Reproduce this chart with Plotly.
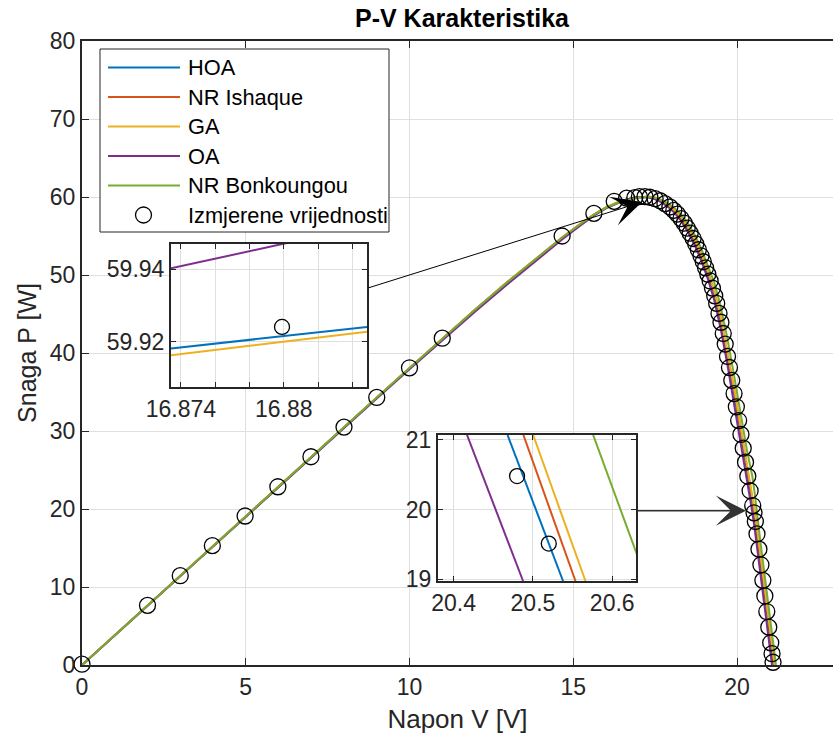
import plotly.graph_objects as go

# ---------------- data ----------------
SERIES = ["HOA", "NR Ishaque", "GA", "OA", "NR Bonkoungou"]
COLORS = ["#0072BD", "#D95319", "#EDB120", "#7E2F8E", "#77AC30"]
MEAS_NAME = "Izmjerene vrijednosti"

V_MODEL = [0, 1, 2, 3, 4, 5, 6, 7, 8, 9, 10, 11, 12, 13, 14, 14.66, 15.2, 15.63, 16.0, 16.3, 16.6, 16.88,
           17.1, 17.3, 17.5, 17.7, 17.9, 18.1, 18.3, 18.5, 18.7, 18.9, 19.1, 19.3, 19.5, 19.7, 19.9, 20.1, 20.3,
           20.468, 20.538, 20.7, 20.9]
P_HOA = [0, 3.82, 7.64, 11.46, 15.28, 19.1, 22.9, 26.7, 30.5, 34.28, 38.05, 41.8, 45.5, 49.08, 52.5, 54.75, 56.45,
         57.72, 58.65, 59.22, 59.65, 59.922, 60.0, 59.97, 59.78, 59.42, 58.87, 58.15, 57.18, 55.9, 54.34, 52.46,
         50.22, 47.62, 44.12, 39.8, 35.04, 30.08, 25.0, 21.0, 19.0, 13.7, 7.2]
P_NR = [0, 3.82, 7.64, 11.46, 15.28, 19.1, 22.9, 26.7, 30.5, 34.28, 38.05, 41.82, 45.55, 49.13, 52.55, 54.8, 56.5,
        57.76, 58.67, 59.22, 59.62, 59.90, 60.0, 59.99, 59.81, 59.47, 58.93, 58.23, 57.29, 56.04, 54.51, 52.67,
        50.46, 47.92, 44.51, 40.25, 35.52, 30.58, 25.53, 21.6, 19.48, 14.34, 7.86]
P_GA = [0, 3.82, 7.64, 11.46, 15.28, 19.1, 22.9, 26.7, 30.5, 34.28, 38.06, 41.83, 45.55, 49.14, 52.56, 54.8, 56.5,
        57.76, 58.67, 59.23, 59.64, 59.92, 60.0, 60.0, 59.83, 59.49, 58.97, 58.28, 57.36, 56.12, 54.62, 52.79,
        50.6, 48.1, 44.74, 40.52, 35.81, 30.88, 25.85, 21.98, 19.86, 14.72, 8.26]
P_OA = [0, 3.81, 7.62, 11.43, 15.24, 19.05, 22.84, 26.63, 30.41, 34.17, 37.92, 41.63, 45.28, 48.85, 52.3, 54.55,
        56.28, 57.6, 58.55, 59.15, 59.65, 59.947, 60.0, 59.92, 59.7, 59.3, 58.71, 57.94, 56.9, 55.55, 53.91, 51.95,
        49.62, 46.87, 43.15, 38.68, 33.84, 28.83, 23.68, 19.57, 17.53, 12.1, 5.55]
P_BONK = [0, 3.82, 7.64, 11.46, 15.28, 19.1, 22.9, 26.7, 30.5, 34.29, 38.07, 41.84, 45.56, 49.15, 52.56, 54.8,
          56.48, 57.74, 58.62, 59.15, 59.55, 59.84, 59.99, 60.05, 59.93, 59.64, 59.18, 58.56, 57.74, 56.59, 55.18,
          53.47, 51.4, 49.09, 46.03, 42.0, 37.39, 32.53, 27.6, 24.2, 22.1, 16.3, 9.6]
VOC = [21.118, 21.138, 21.15, 21.068, 21.19]   # open-circuit voltage of each model (P = 0)

V_MEAS = [0, 2.0, 3.0, 3.98, 4.98, 5.98, 6.99, 8.0, 9.0, 10.0, 11.0, 14.66, 15.63, 16.25, 16.63, 16.88, 17.02,
          17.19, 17.34, 17.50, 17.65, 17.80, 17.95, 18.07, 18.18, 18.29, 18.39, 18.48, 18.57, 18.66, 18.74, 18.82,
          18.90, 18.97, 19.04, 19.11, 19.18, 19.25, 19.32, 19.38, 19.45, 19.51, 19.58, 19.64, 19.71, 19.77, 19.84,
          19.91, 19.98, 20.05, 20.12, 20.19, 20.26, 20.33, 20.40, 20.48, 20.52, 20.56, 20.61, 20.67, 20.73, 20.79,
          20.85, 20.91, 20.97, 21.03, 21.07, 21.10]
P_MEAS = [0.1, 7.65, 11.45, 15.3, 19.1, 22.85, 26.7, 30.5, 34.3, 38.1, 41.9, 55.0, 57.9, 59.45, 59.85, 59.924,
          60.05, 60.05, 59.97, 59.78, 59.52, 59.15, 58.72, 58.28, 57.80, 57.24, 56.64, 56.02, 55.36, 54.68, 53.98,
          53.24, 52.46, 51.70, 50.92, 50.10, 49.24, 48.32, 47.32, 46.36, 45.08, 43.94, 42.50, 41.14, 39.56, 38.14,
          36.50, 34.80, 33.10, 31.34, 29.56, 27.80, 26.00, 24.20, 22.34, 20.44, 19.51, 18.40, 16.80, 14.85, 12.85,
          10.85, 8.85, 6.85, 4.85, 2.85, 1.45, 0.35]

# inset 1 (around the maximum power point)
IN1_V = [16.87342, 16.88486]
IN1_HOA = [59.9182, 59.9241]
IN1_GA = [59.9163, 59.9228]
IN1_OA = [59.9402, 59.9520]
IN1_MEAS_V = [16.8799]
IN1_MEAS_P = [59.9241]
IN1_XRANGE = [16.87342, 16.88486]
IN1_YRANGE = [59.9076, 59.9469]
IN1_XTICKS = [16.874, 16.876, 16.878, 16.880, 16.882, 16.884]
IN1_XTEXT = ["16.874", "", "", "16.88", "", ""]
IN1_YTICKS = [59.92, 59.94]
IN1_YTEXT = ["59.92", "59.94"]

# inset 2 (around P = 20 W)
IN2_P = [21.066, 18.976]
IN2_HOA_V = [20.468, 20.538]
IN2_NR_V = [20.488, 20.5537]
IN2_GA_V = [20.5003, 20.5663]
IN2_OA_V = [20.4169, 20.4876]
IN2_BONK_V = [20.576, 20.6434]
IN2_MEAS_V = [20.480, 20.520]
IN2_MEAS_P = [20.478, 19.512]
IN2_XRANGE = [20.3803, 20.630]
IN2_YRANGE = [18.976, 21.066]
IN2_XTICKS = [20.4, 20.5, 20.6]
IN2_YTICKS = [19, 20, 21]

X_TICKS = [0, 5, 10, 15, 20]
Y_TICKS = [0, 10, 20, 30, 40, 50, 60, 70, 80]

# ---------------- layout helpers ----------------
W, H = 833, 739
PL, PR, PT, PB = 82, 833, 41, 665   # main plot area in pixels
FONT = "Liberation Sans, Arial, sans-serif"
AX = "#262626"
GRID = "#dfdfdf"


def px(x):
    return (x - PL) / (PR - PL)


def py(y):
    return (PB - y) / (PB - PT)


fig = go.Figure()

model_p = [P_HOA, P_NR, P_GA, P_OA, P_BONK]
for name, col, pv, voc in zip(SERIES, COLORS, model_p, VOC):
    fig.add_trace(go.Scatter(x=V_MODEL + [voc], y=pv + [0], mode="lines", name=name,
                             line=dict(color=col, width=2), showlegend=False, xaxis="x", yaxis="y"))
fig.add_trace(go.Scatter(x=V_MEAS, y=P_MEAS, mode="markers", name=MEAS_NAME, cliponaxis=False,
                         marker=dict(symbol="circle-open", size=16, color="black", line=dict(width=1.3)),
                         showlegend=False, xaxis="x", yaxis="y"))

# inset 1
for yv, col in [(IN1_HOA, COLORS[0]), (IN1_GA, COLORS[2]), (IN1_OA, COLORS[3])]:
    fig.add_trace(go.Scatter(x=IN1_V, y=yv, mode="lines", line=dict(color=col, width=2),
                             showlegend=False, xaxis="x2", yaxis="y2"))
fig.add_trace(go.Scatter(x=IN1_MEAS_V, y=IN1_MEAS_P, mode="markers", showlegend=False, xaxis="x2", yaxis="y2",
                         marker=dict(symbol="circle-open", size=15, color="black", line=dict(width=1.3))))

# inset 2
for xv, col in [(IN2_HOA_V, COLORS[0]), (IN2_NR_V, COLORS[1]), (IN2_GA_V, COLORS[2]),
                (IN2_OA_V, COLORS[3]), (IN2_BONK_V, COLORS[4])]:
    fig.add_trace(go.Scatter(x=xv, y=IN2_P, mode="lines", line=dict(color=col, width=2),
                             showlegend=False, xaxis="x3", yaxis="y3"))
fig.add_trace(go.Scatter(x=IN2_MEAS_V, y=IN2_MEAS_P, mode="markers", showlegend=False, xaxis="x3", yaxis="y3",
                         marker=dict(symbol="circle-open", size=15, color="black", line=dict(width=1.3))))

tickfont = dict(family=FONT, size=23, color=AX)
common = dict(showline=True, linecolor=AX, linewidth=2, ticks="inside", tickcolor=AX, tickwidth=1.3,
              showgrid=True, gridcolor=GRID, gridwidth=1, zeroline=False, tickfont=tickfont)

# inset domains from pixel boxes
i1 = (171, 244, 367, 387)
i2 = (438, 435, 636, 581)

fig.update_layout(
    width=W, height=H,
    margin=dict(l=PL, r=W - PR, t=PT, b=H - PB),
    paper_bgcolor="white", plot_bgcolor="white",
    font=dict(family=FONT, color=AX),
    title=dict(text="<b>P-V Karakteristika</b>", x=462 / W, xanchor="center",
               y=1 - 18 / H, yanchor="middle", font=dict(family=FONT, size=25, color="black")),
    xaxis=dict(domain=[0, 1], range=[0, (PR - PL) / 32.75], tickvals=X_TICKS, ticklen=7, mirror="ticks",
               title=dict(text="Napon V [V]", font=dict(family=FONT, size=26, color=AX), standoff=11),
               anchor="y", **common),
    yaxis=dict(domain=[0, 1], range=[0, 80], tickvals=Y_TICKS, ticklen=7, mirror=False,
               title=dict(text="Snaga P [W]", font=dict(family=FONT, size=25, color=AX), standoff=6),
               anchor="x", **common),
    xaxis2=dict(domain=[px(i1[0]), px(i1[2])], range=IN1_XRANGE, tickvals=IN1_XTICKS, ticktext=IN1_XTEXT,
                ticklen=5, mirror="ticks", anchor="y2", **common),
    yaxis2=dict(domain=[py(i1[3]), py(i1[1])], range=IN1_YRANGE, tickvals=IN1_YTICKS, ticktext=IN1_YTEXT,
                ticklen=5, mirror="ticks", anchor="x2", **common),
    xaxis3=dict(domain=[px(i2[0]), px(i2[2])], range=IN2_XRANGE, tickvals=IN2_XTICKS,
                ticklen=5, mirror="ticks", anchor="y3", **common),
    yaxis3=dict(domain=[py(i2[3]), py(i2[1])], range=IN2_YRANGE, tickvals=IN2_YTICKS,
                ticklen=5, mirror="ticks", anchor="x3", **common),
)

# arrows from insets to the zoomed regions (data coordinates of the main axes)
fig.add_annotation(x=(642 - PL) / 32.75, y=(PB - 202) / 7.8, ax=(367 - PL) / 32.75, ay=(PB - 288.3) / 7.8,
                   xref="x", yref="y", axref="x", ayref="y", text="", showarrow=True,
                   arrowhead=3, arrowsize=5, arrowwidth=1, arrowcolor="black", standoff=0)
fig.add_annotation(x=(746 - PL) / 32.75, y=(PB - 510.7) / 7.8, ax=(636 - PL) / 32.75, ay=(PB - 510.7) / 7.8,
                   xref="x", yref="y", axref="x", ayref="y", text="", showarrow=True,
                   arrowhead=3, arrowsize=3.6, arrowwidth=1.4, arrowcolor="#333333", standoff=0)

# manual legend (MATLAB style)
LEG = (100, 49, 389, 232)
fig.add_shape(type="rect", xref="paper", yref="paper", x0=px(LEG[0]), x1=px(LEG[2]), y0=py(LEG[3]),
              y1=py(LEG[1]), fillcolor="white", line=dict(color=AX, width=1), layer="above")
row_y = [67.5, 97.0, 126.5, 156.0, 185.5, 215.0]
for i, (name, col) in enumerate(zip(SERIES, COLORS)):
    fig.add_shape(type="line", xref="paper", yref="paper", x0=px(108), x1=px(180), y0=py(row_y[i]),
                  y1=py(row_y[i]), line=dict(color=col, width=2), layer="above")
    fig.add_annotation(x=px(186), y=py(row_y[i]), xref="paper", yref="paper", text=name, showarrow=False,
                       xanchor="left", yanchor="middle", font=dict(family=FONT, size=21.8, color="black"))
fig.add_shape(type="circle", xref="paper", yref="paper", xsizemode="pixel", ysizemode="pixel",
              xanchor=px(143.5), yanchor=py(row_y[5]), x0=-8, x1=8, y0=-8, y1=8,
              line=dict(color="black", width=1.3), layer="above")
fig.add_annotation(x=px(186), y=py(row_y[5]), xref="paper", yref="paper", text=MEAS_NAME, showarrow=False,
                   xanchor="left", yanchor="middle", font=dict(family=FONT, size=21.8, color="black"))

fig.write_html("out.html")
